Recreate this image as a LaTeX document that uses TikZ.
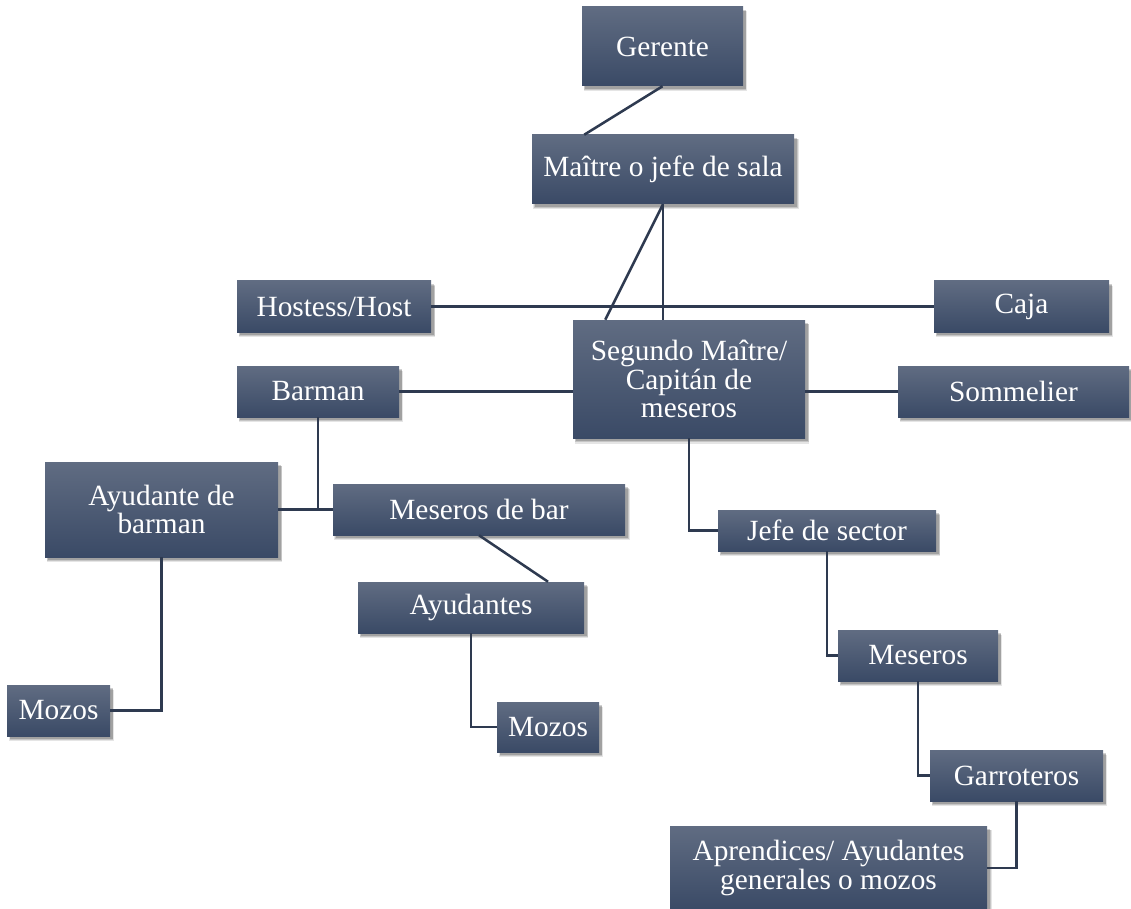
\documentclass[tikz,border=0pt]{standalone}
\usepackage{fontspec}
\setmainfont{Liberation Serif}
\usetikzlibrary{shadows,calc}
\definecolor{boxtop}{RGB}{96,108,130}
\definecolor{boxbot}{RGB}{58,74,102}
\definecolor{wire}{RGB}{46,58,80}
\tikzset{
  softshadow/.style={
    general shadow={shadow xshift=2.2pt, shadow yshift=-3.6pt, shadow scale=1.012, opacity=0.10, fill=black},
    general shadow={shadow xshift=2.2pt, shadow yshift=-3.0pt, shadow scale=1.006, opacity=0.14, fill=black},
    general shadow={shadow xshift=2.2pt, shadow yshift=-2.4pt, opacity=0.18, fill=black}},
  orgbox/.style 2 args={draw=none, top color=boxtop, bottom color=boxbot,
    minimum width=#1*0.75pt, minimum height=#2*0.75pt, inner sep=0pt,
    align=center, text=white,
    font=\fontsize{22}{21.5}\selectfont, softshadow},
  wireline/.style={draw=wire, line width=1.9pt}
}
\begin{document}
\begin{tikzpicture}[x=0.75pt, y=-0.75pt]
\useasboundingbox (0,0) rectangle (1131,909);

% staff positions
\node[orgbox={161}{79}]  (ger)   at (662.5,46.5)  {Gerente};
\node[orgbox={262}{69}]  (mai)   at (663,169.5)   {Maître o jefe de sala};
\node[orgbox={194}{51}]  (host)  at (334,306.5)   {Hostess/Host};
\node[orgbox={175}{51}]  (caja)  at (1021.5,306.5){Caja};
\node[orgbox={232}{118}] (seg)   at (689,379)     {Segundo Maître/\\Capitán de\\meseros};
\node[orgbox={162}{51}]  (bar)   at (318,391.5)   {Barman};
\node[orgbox={231}{51}]  (som)   at (1013.5,391.5){Sommelier};
\node[orgbox={233}{95}]  (ayb)   at (161.5,509.5) {Ayudante de\\barman};
\node[orgbox={292}{51}]  (mbar)  at (479,509.5)   {Meseros de bar};
\node[orgbox={218}{41}]  (jefe)  at (827,530.5)   {Jefe de sector};
\node[orgbox={226}{51}]  (ayu)   at (471,607.5)   {Ayudantes};
\node[orgbox={160}{51}]  (mes)   at (918,655.5)   {Meseros};
\node[orgbox={103}{51}]  (mozl)  at (58.5,710.5)  {Mozos};
\node[orgbox={102}{50}]  (mozr)  at (548,727)     {Mozos};
\node[orgbox={173}{51}]  (garr)  at (1016.5,775.5){Garroteros};
\node[orgbox={317}{84}]  (apr)   at (828.5,868)   {Aprendices/ Ayudantes\\generales o mozos};

% connectors
\draw[wireline] (ger.south) -- ($(mai.north west)!0.2!(mai.north east)$);
\draw[wireline] (mai.south) -- (mai.south |- seg.north);
\draw[wireline] (mai.south) -- ($(seg.north west)!0.14!(seg.north east)$);
\draw[wireline] (host.east) -- (caja.west);
\draw[wireline] (bar.east) -- (bar.east -| seg.west);
\draw[wireline] (seg.east |- som.west) -- (som.west);
\draw[wireline] (bar.south) -- (bar.south |- mbar.west);
\draw[wireline] (ayb.east) -- (mbar.west);
\draw[wireline] (mbar.south) -- ($(ayu.north west)!0.84!(ayu.north east)$);
\draw[wireline] (ayb.south) |- (mozl.east);
\draw[wireline] (ayu.south) |- (mozr.west);
\draw[wireline] (seg.south) |- (jefe.west);
\draw[wireline] (jefe.south) |- (mes.west);
\draw[wireline] (mes.south) |- (garr.west);
\draw[wireline] (garr.south) |- (apr.east);
\end{tikzpicture}
\end{document}
